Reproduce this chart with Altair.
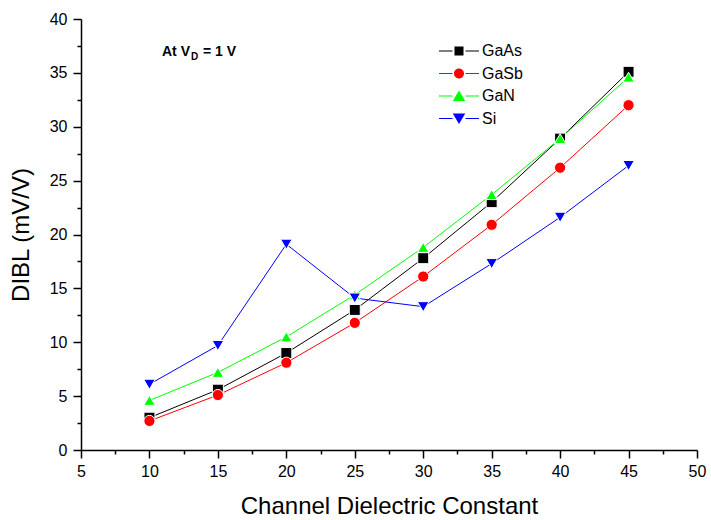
import altair as alt
import pandas as pd

# ---- data ----
dielectric = [10, 15, 20, 25, 30, 35, 40, 45]
gaas = [3.0, 5.6, 9.0, 13.0, 17.8, 23.0, 28.9, 35.1]
gasb = [2.7, 5.1, 8.1, 11.8, 16.1, 20.9, 26.2, 32.0]
gan = [4.6, 7.2, 10.5, 14.4, 18.8, 23.7, 28.9, 34.6]
si = [6.1, 9.7, 19.1, 14.1, 13.3, 17.3, 21.6, 26.4]

series_names = ["GaAs", "GaSb", "GaN", "Si"]
series_colors = ["#000000", "#ff0000", "#00ff00", "#0000ff"]
series_shapes = ["square", "circle", "triangle-up", "triangle-down"]

x_major = [5, 10, 15, 20, 25, 30, 35, 40, 45, 50]
x_minor = [7.5, 12.5, 17.5, 22.5, 27.5, 32.5, 37.5, 42.5, 47.5]
y_major = [0, 5, 10, 15, 20, 25, 30, 35, 40]
y_minor = [2.5, 7.5, 12.5, 17.5, 22.5, 27.5, 32.5, 37.5]

rows = []
for name, vals in zip(series_names, [gaas, gasb, gan, si]):
    for xv, yv in zip(dielectric, vals):
        rows.append({"series": name, "k": xv, "dibl": yv})
df = pd.DataFrame(rows)

# legend symbols: line stubs + marker (unit = 5 px)
stub = "M-4,-0.1 H-1.3 V0.1 H-4 Z M1.3,-0.1 H4 V0.1 H1.3 Z "
legend_paths = [
    stub + "M-0.9,-0.9 H0.9 V0.9 H-0.9 Z",
    stub + "M-1,0 A1,1 0 1,0 1,0 A1,1 0 1,0 -1,0 Z",
    stub + "M0,-1.1 L1.25,1 L-1.25,1 Z",
    stub + "M0,1.1 L1.25,-1 L-1.25,-1 Z",
]

FONT = "Liberation Sans"

common_axis = dict(
    labelFont=FONT, labelFontSize=16, labelColor="black",
    labelFlush=False, labelOverlap=False,
    domainColor="black", domainWidth=1.5, tickColor="black", tickWidth=1.5,
    grid=False,
    titleFont=FONT, titleFontSize=24, titleFontWeight="normal", titleColor="black",
)

x_axis = alt.Axis(
    values=x_major, tickSize=8, orient="bottom",
    title="Channel Dielectric Constant",
    labelPadding=5, titlePadding=15,
    **common_axis,
)
y_axis = alt.Axis(
    values=y_major, tickSize=8, orient="left",
    title="DIBL (mV/V)",
    labelPadding=6, titlePadding=16,
    **common_axis,
)
x_minor_axis = alt.Axis(
    values=x_minor, tickSize=4, orient="bottom", labels=False, domain=False,
    title=None, grid=False, tickColor="black", tickWidth=1.5,
)
y_minor_axis = alt.Axis(
    values=y_minor, tickSize=4, orient="left", labels=False, domain=False,
    title=None, grid=False, tickColor="black", tickWidth=1.5,
)

xs = alt.Scale(domain=[5, 50], nice=False, zero=False)
ys = alt.Scale(domain=[0, 40], nice=False)
cscale = alt.Scale(domain=series_names, range=series_colors)

base = alt.Chart(df)

lines = base.mark_line(strokeWidth=1).encode(
    x=alt.X("k:Q", scale=xs, axis=x_axis),
    y=alt.Y("dibl:Q", scale=ys, axis=y_axis),
    color=alt.Color("series:N", scale=cscale, legend=None),
    detail="series:N",
)

minor = base.mark_point(opacity=0).encode(
    x=alt.X("k:Q", scale=xs, axis=x_minor_axis),
    y=alt.Y("dibl:Q", scale=ys, axis=y_minor_axis),
)

points = base.mark_point(filled=True, opacity=1, stroke="white", strokeWidth=1).encode(
    x=alt.X("k:Q", scale=xs, axis=None),
    y=alt.Y("dibl:Q", scale=ys, axis=None),
    fill=alt.Fill("series:N", scale=cscale, legend=None),
    shape=alt.Shape("series:N", scale=alt.Scale(domain=series_names, range=series_shapes), legend=None),
    size=alt.Size("series:N", scale=alt.Scale(domain=series_names, range=[120, 135, 240, 240]), legend=None),
)

legend_layer = base.transform_filter("false").mark_point(filled=True, opacity=1).encode(
    x=alt.X("k:Q", scale=xs, axis=None),
    y=alt.Y("dibl:Q", scale=ys, axis=None),
    color=alt.Color(
        "series:N",
        scale=cscale,
        legend=alt.Legend(
            orient="none", legendX=370, legendY=24, title=None,
            labelFont=FONT, labelFontSize=16, labelColor="black",
            symbolSize=100, symbolStrokeWidth=0, symbolOpacity=1,
            labelOffset=15, rowPadding=6.5, padding=0,
        ),
    ),
    shape=alt.Shape("series:N", scale=alt.Scale(domain=series_names, range=legend_paths)),
)

ann1 = alt.Chart(pd.DataFrame({"t": ["At V"]})).mark_text(
    font=FONT, fontSize=14, fontWeight="bold", align="left", baseline="alphabetic", color="black"
).encode(text="t:N", x=alt.value(81), y=alt.value(37))
ann2 = alt.Chart(pd.DataFrame({"t": ["D"]})).mark_text(
    font=FONT, fontSize=10, fontWeight="bold", align="left", baseline="alphabetic", color="black"
).encode(text="t:N", x=alt.value(110), y=alt.value(41))
ann3 = alt.Chart(pd.DataFrame({"t": ["= 1 V"]})).mark_text(
    font=FONT, fontSize=14, fontWeight="bold", align="left", baseline="alphabetic", color="black"
).encode(text="t:N", x=alt.value(122), y=alt.value(37))

chart = alt.layer(lines, minor, points, legend_layer, ann1, ann2, ann3).resolve_scale(
    color="independent", shape="independent", fill="independent"
).resolve_axis(
    x="independent", y="independent"
).properties(
    width=616, height=431,
    padding={"left": 81, "top": 19, "right": 14, "bottom": 70},
    autosize=alt.AutoSizeParams(type="none"),
    background="white",
).configure_view(stroke=None)

chart.save("out.html", embed_options={"renderer": "svg", "actions": False})
